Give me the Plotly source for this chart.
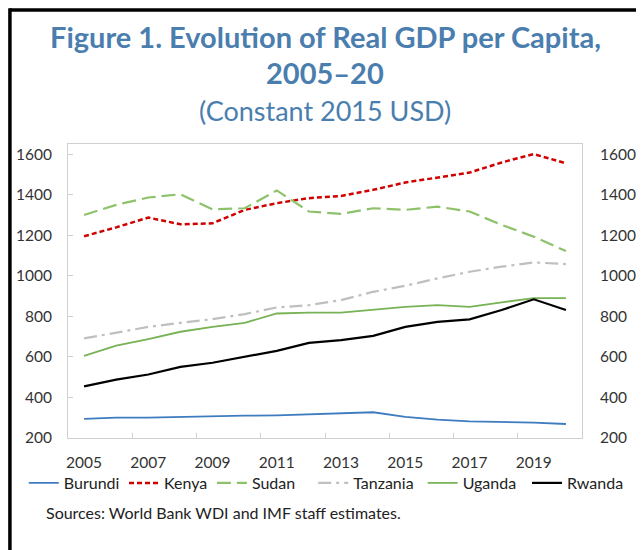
import plotly.graph_objects as go

years = list(range(2005, 2021))

burundi = [294, 300, 300, 304, 305, 310, 312, 317, 323, 327, 304, 291, 282, 279, 276, 269]
kenya = [1195, 1239, 1287, 1254, 1259, 1325, 1358, 1383, 1394, 1424, 1460, 1485, 1509, 1559, 1600, 1555]
sudan = [1300, 1350, 1386, 1402, 1328, 1333, 1421, 1317, 1305, 1333, 1325, 1341, 1317, 1251, 1193, 1122]
tanzania = [691, 719, 748, 768, 786, 811, 844, 855, 880, 921, 951, 987, 1020, 1045, 1066, 1058]
uganda = [605, 655, 688, 724, 748, 768, 814, 818, 818, 834, 847, 855, 847, 869, 890, 890]
rwanda = [455, 488, 513, 551, 571, 600, 630, 669, 683, 704, 748, 773, 785, 831, 884, 831]

x_ticks = list(range(2005, 2020, 2))
y_ticks = [200, 400, 600, 800, 1000, 1200, 1400, 1600]

FONT = "Lato"
BLUE_TITLE = "#4A7EAE"

series = [
    ("Burundi", burundi, "#3E7CC0", "solid", 1.8),
    ("Kenya", kenya, "#D00000", "5px,3px", 2.5),
    ("Sudan", sudan, "#8DC26B", "14px,6px", 2.2),
    ("Tanzania", tanzania, "#BFBFBF", "13px,5px,3px,5px", 2.2),
    ("Uganda", uganda, "#77B255", "solid", 1.8),
    ("Rwanda", rwanda, "#000000", "solid", 2.2),
]
# one small legend per entry so the row keeps the reference spacing
legend_x = [-0.086, 0.109, 0.280, 0.477, 0.690, 0.893]

fig = go.Figure()
legends = {}
for i, (name, vals, color, dash, w) in enumerate(series):
    key = "legend" if i == 0 else f"legend{i + 1}"
    fig.add_trace(go.Scatter(x=years, y=vals, name=name, mode="lines", legend=key,
                             line=dict(color=color, dash=dash, width=w)))
    legends[key] = dict(orientation="h", x=legend_x[i], y=-0.153, xanchor="left",
                        yanchor="middle", font=dict(size=16, color="#222222"),
                        itemwidth=30, bgcolor="rgba(0,0,0,0)")

# invisible trace for the right-hand axis
fig.add_trace(go.Scatter(x=[years[0]], y=[burundi[0]], yaxis="y2",
                         mode="lines", showlegend=False, hoverinfo="skip",
                         line=dict(width=0)))

frame = "#D0D0D0"
fig.update_layout(
    width=644, height=550,
    margin=dict(l=60, r=70, t=136, b=120, autoexpand=False),
    paper_bgcolor="white", plot_bgcolor="white",
    font=dict(family=FONT, size=15.5, color="#333333"),
    xaxis=dict(range=[2004.5, 2020.5], tickvals=x_ticks, ticks="", automargin=False,
               showgrid=False, zeroline=False, showline=True, linecolor=frame,
               mirror=True, ticklabelstandoff=10,
               minor=dict(tickvals=[2006.5, 2008.5, 2010.5, 2012.5, 2014.5, 2016.5, 2018.5],
                          ticks="inside", ticklen=5, tickcolor=frame)),
    yaxis=dict(range=[200, 1650], tickvals=y_ticks, ticks="inside", ticklen=5,
               tickcolor=frame, showgrid=False, zeroline=False, showline=True,
               linecolor=frame, mirror=True, ticklabelstandoff=12, automargin=False),
    yaxis2=dict(range=[200, 1650], tickvals=y_ticks, overlaying="y", side="right",
                showgrid=False, zeroline=False, showline=False, ticks="",
                ticklabelstandoff=17, automargin=False),
    showlegend=True,
    **legends,
)

fig.add_annotation(text="<b>Figure 1. Evolution of Real GDP per Capita,</b>",
                   xref="paper", yref="paper", x=0.5, y=1.367, yanchor="middle",
                   showarrow=False, font=dict(size=29, color=BLUE_TITLE, family=FONT))
fig.add_annotation(text="<b>2005–20</b>", xref="paper", yref="paper", x=0.5, y=1.243,
                   yanchor="middle", showarrow=False,
                   font=dict(size=29, color=BLUE_TITLE, family=FONT))
fig.add_annotation(text="(Constant 2015 USD)", xref="paper", yref="paper", x=0.5, y=1.114,
                   yanchor="middle", showarrow=False,
                   font=dict(size=27, color=BLUE_TITLE, family=FONT))
fig.add_annotation(text="Sources: World Bank WDI and IMF staff estimates.",
                   xref="paper", yref="paper", x=-0.046, y=-0.252, xanchor="left",
                   yanchor="middle", showarrow=False,
                   font=dict(size=16, color="#222222", family=FONT))

# black frame on the top and left edges of the page
fig.add_shape(type="line", xref="paper", yref="paper", x0=-0.113, x1=1.13,
              y0=1.456, y1=1.456, line=dict(color="black", width=3.5))
fig.add_shape(type="line", xref="paper", yref="paper", x0=-0.113, x1=-0.113,
              y0=1.462, y1=-0.40, line=dict(color="black", width=3.5))

fig.write_html("out.html")
